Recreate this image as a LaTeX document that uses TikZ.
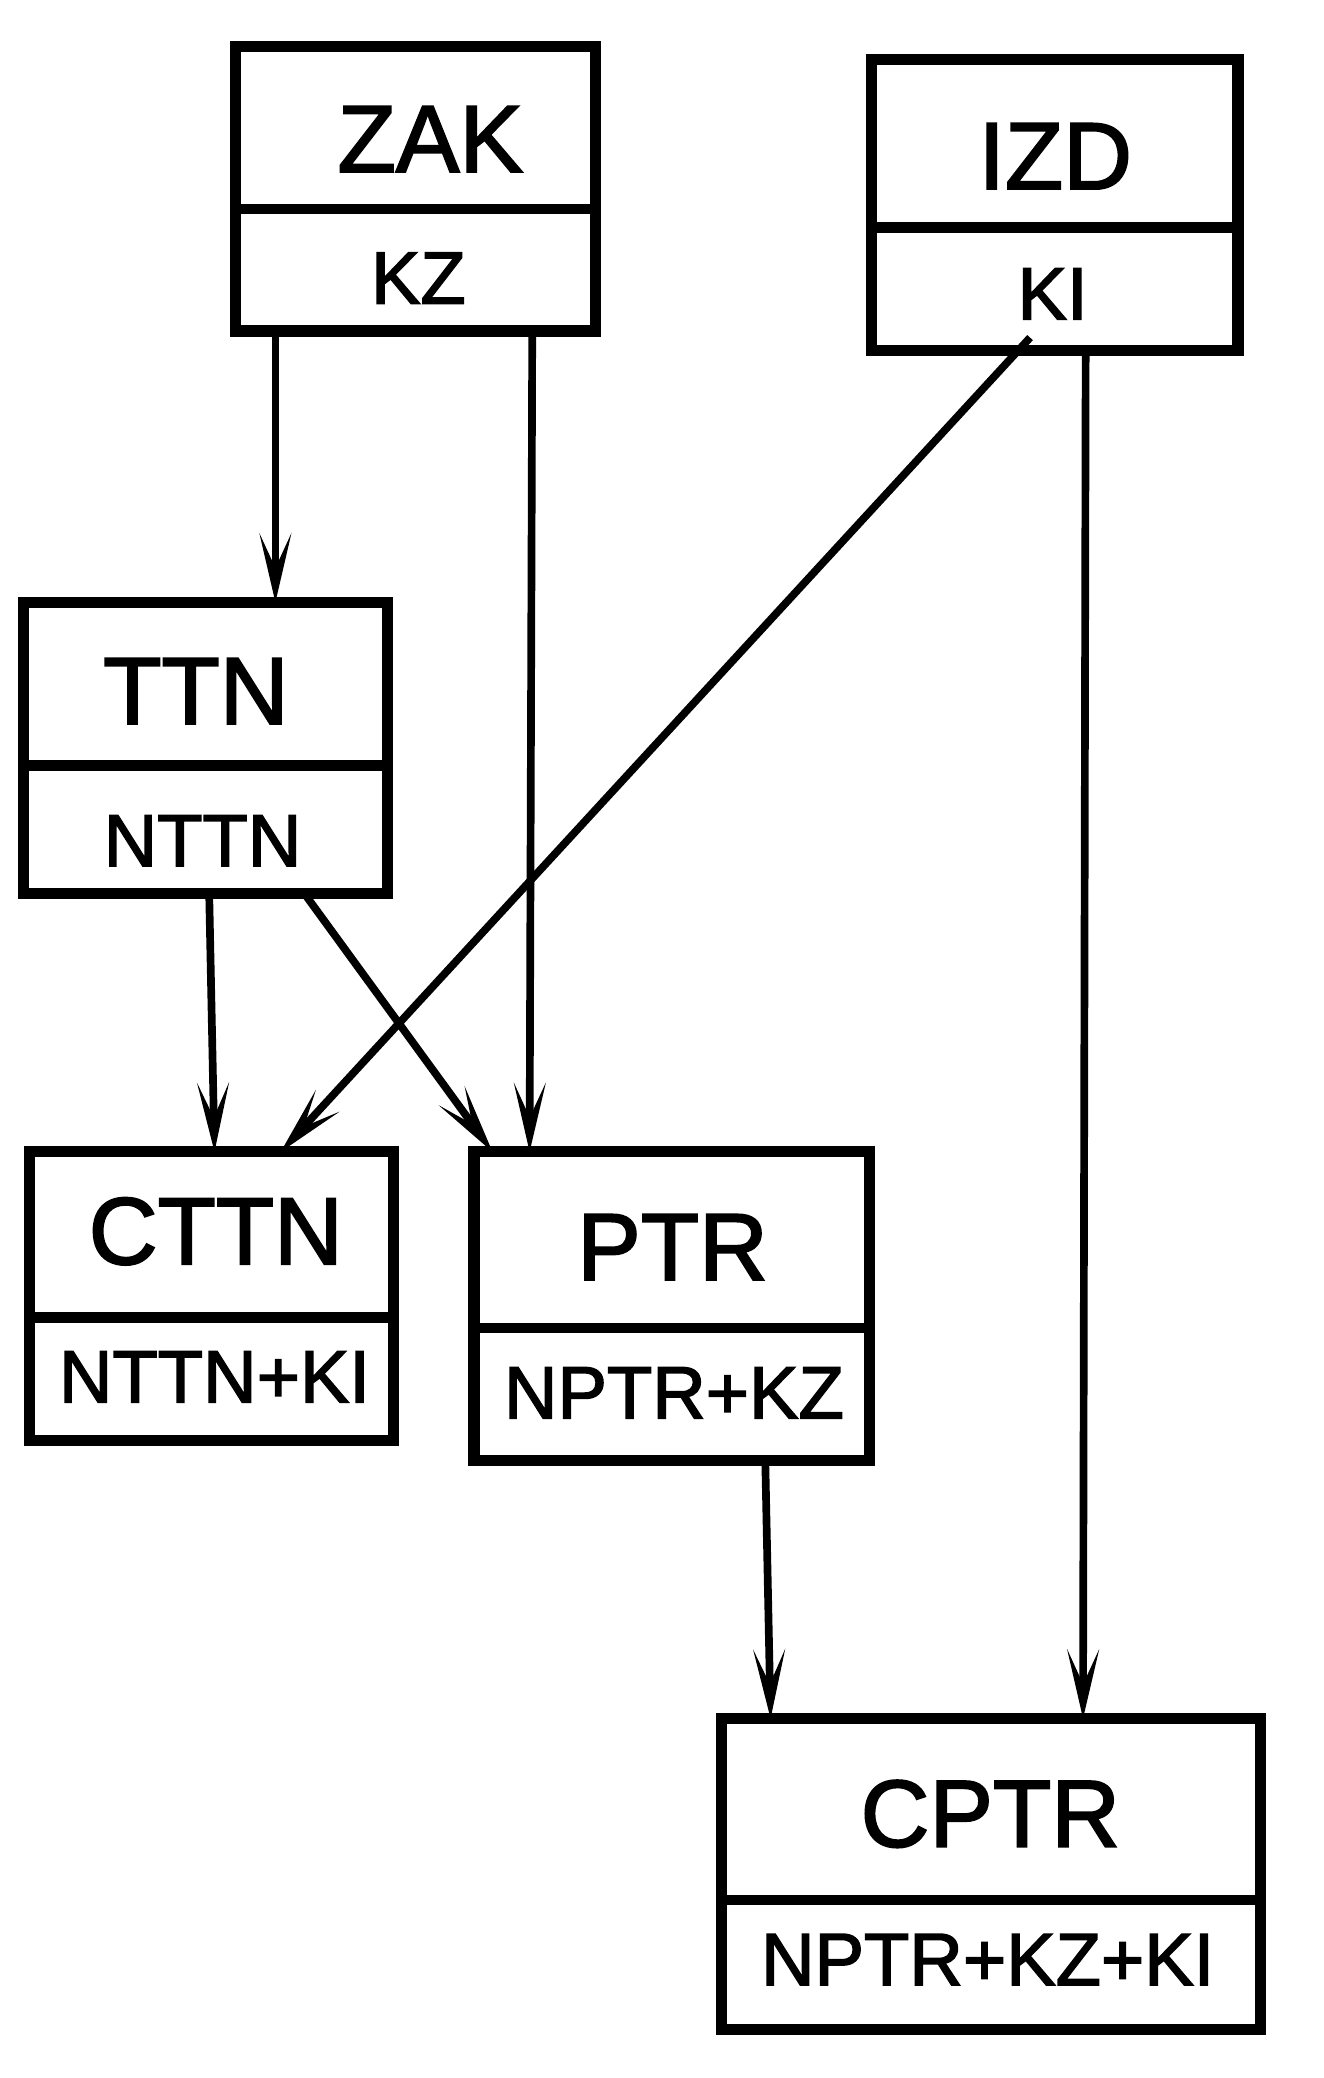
\documentclass[tikz,border=0pt]{standalone}
\usepackage{fontspec}
\setmainfont{Liberation Sans}[FakeBold=2]
\usetikzlibrary{arrows.meta,calc}
\tikzset{
  ent/.style={draw, line width=4.2pt, inner sep=0pt, outer sep=0pt},
  divline/.style={line width=4pt},
  ttl/.style={inner sep=0pt, font=\fontsize{36}{40}\selectfont},
  sub/.style={inner sep=0pt, font=\fontsize{28}{32}\selectfont},
  arr/.style={line width=2.9pt, arrows={-Stealth[length=26pt,width=12pt,inset=13pt]}}
}
\begin{document}
\begin{tikzpicture}[x=0.5pt,y=-0.5pt]
\useasboundingbox (0,0) rectangle (1000,1569.5);
% boxes
\node[ent, minimum width=136pt, minimum height=107.5pt] (zak) at (314,142.5) {};
\node[ent, minimum width=138.5pt, minimum height=110pt] (izd) at (796.5,155) {};
\node[ent, minimum width=137.5pt, minimum height=110pt] (ttn) at (155.5,565) {};
\node[ent, minimum width=137.5pt, minimum height=109pt] (cttn) at (159.5,979) {};
\node[ent, minimum width=149.5pt, minimum height=116.5pt] (ptr) at (507.5,986.5) {};
\node[ent, minimum width=203.5pt, minimum height=117.5pt] (cptr) at (748.5,1415.5) {};
% dividers
\draw[divline] (zak.west |- 0,158) -- (zak.east |- 0,158);
\draw[divline] (izd.west |- 0,172) -- (izd.east |- 0,172);
\draw[divline] (ttn.west |- 0,578) -- (ttn.east |- 0,578);
\draw[divline] (cttn.west |- 0,995) -- (cttn.east |- 0,995);
\draw[divline] (ptr.west |- 0,1003) -- (ptr.east |- 0,1003);
\draw[divline] (cptr.west |- 0,1435) -- (cptr.east |- 0,1435);
% texts
\node[ttl] (zakt) at (325,105) {ZAK};
\node[sub] (zaks) at (316,210) {KZ};
\node[ttl] (izdt) at (797,118) {IZD};
\node[sub] (izds) at (795,222) {KI};
\node[ttl] (ttnt) at (148,522) {TTN};
\node[sub] (ttns) at (153,635) {NTTN};
\node[ttl] (cttnt) at (163,930) {CTTN};
\node[sub] (cttns) at (162,1040) {NTTN+KI};
\node[ttl] (ptrt) at (508,942) {PTR};
\node[sub] (ptrs) at (509,1052) {NPTR+KZ};
\node[ttl] (cptrt) at (748,1370) {CPTR};
\node[sub] (cptrs) at (746,1480) {NPTR+KZ+KI};
% connectors
\draw[arr] ([xshift=15pt]zak.south west) -- ([xshift=95pt]ttn.north west);
\draw[arr] ([xshift=112pt]zak.south west) -- ([xshift=21pt]ptr.north west);
\draw[arr] ([xshift=60pt,yshift=5pt]izd.south west) -- ([xshift=95pt]cttn.north west);
\draw[arr] ([xshift=81pt]izd.south west) -- ([xshift=136.5pt]cptr.north west);
\draw[arr] ([xshift=70pt]ttn.south west) -- ([xshift=70pt]cttn.north west);
\draw[arr] ([xshift=106pt]ttn.south west) -- ([xshift=7pt]ptr.north west);
\draw[arr] ([xshift=110pt]ptr.south west) -- ([xshift=18.5pt]cptr.north west);
\end{tikzpicture}
\end{document}
